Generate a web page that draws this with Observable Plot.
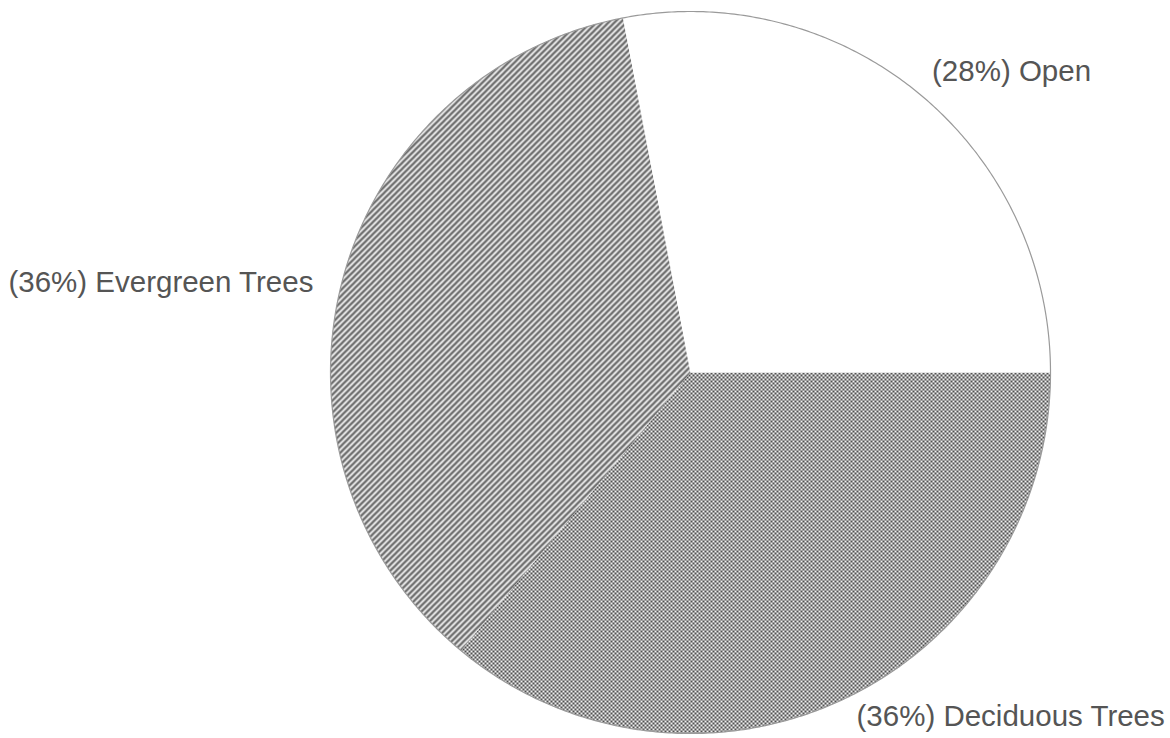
<!DOCTYPE html>
<html>
<head>
<meta charset="utf-8">
<script src="https://cdn.jsdelivr.net/npm/d3@7"></script>
<script src="https://cdn.jsdelivr.net/npm/@observablehq/plot@0.6"></script>
<style>
  html, body { margin: 0; padding: 0; background: #fff; }
  #chart svg { display: block; }
</style>
</head>
<body>
<div id="chart"></div>
<script>
// Land cover shares, listed clockwise from 3 o'clock
const categories = ["Deciduous Trees", "Evergreen Trees", "Open"];
const shares = [36, 36, 28];
const labels = ["(36%) Deciduous Trees", "(36%) Evergreen Trees", "(28%) Open"];

// Fill for each category
const fills = {
  "Deciduous Trees": "url(#checker)",
  "Evergreen Trees": "url(#hatch)",
  "Open": "#ffffff"
};

// Small nudges for each label, in pixels
const labelNudge = {
  "Deciduous Trees": {dx: 2, dy: -5},
  "Evergreen Trees": {dx: -4, dy: 6},
  "Open": {dx: -4, dy: -3}
};

// Slice angles (d3 convention: clockwise from 12 o'clock), starting at 3 o'clock
const arcs = d3.pie().sort(null).startAngle(Math.PI / 2).endAngle(Math.PI / 2 + 2 * Math.PI)(shares);

// Point on the unit circle in data coordinates (y up)
const polar = (a, r = 1) => ({x: r * Math.sin(a), y: r * Math.cos(a)});

// Outline of each slice as a closed polygon: centre, arc, back to centre
function slicePolygon(arc, cat) {
  const pts = [{cat, x: 0, y: 0}];
  const n = Math.max(2, Math.ceil((arc.endAngle - arc.startAngle) / (Math.PI / 360)));
  for (let i = 0; i <= n; i++) {
    const a = arc.startAngle + (arc.endAngle - arc.startAngle) * i / n;
    pts.push({cat, ...polar(a)});
  }
  pts.push({cat, x: 0, y: 0});
  return pts;
}
const slices = arcs.map((arc, i) => slicePolygon(arc, categories[i]));

// Full rim of the pie
const rim = slicePolygon({startAngle: 0, endAngle: 2 * Math.PI}, "rim").slice(1, -1);

// Labels sit just outside the rim at each slice's middle angle
const labelRows = arcs.map((arc, i) => {
  const mid = (arc.startAngle + arc.endAngle) / 2;
  return {cat: categories[i], text: labels[i], ...polar(mid, 1.07)};
});

// Pattern definitions used by the slice fills
const patterns = () => {
  const defs = d3.create("svg:defs");
  const hatch = defs.append("pattern")
    .attr("id", "hatch").attr("patternUnits", "userSpaceOnUse")
    .attr("width", 6).attr("height", 6);
  hatch.append("rect").attr("width", 6).attr("height", 6).attr("fill", "#f4f4f4");
  hatch.append("path")
    .attr("d", "M-1,1 l2,-2 M0,6 l6,-6 M5,7 l2,-2")
    .attr("stroke", "#6a6a6a").attr("stroke-width", 2.3);
  const checker = defs.append("pattern")
    .attr("id", "checker").attr("patternUnits", "userSpaceOnUse")
    .attr("width", 4).attr("height", 4);
  checker.append("rect").attr("width", 4).attr("height", 4).attr("fill", "#505050");
  checker.append("rect").attr("x", 0).attr("y", 0).attr("width", 2).attr("height", 2).attr("fill", "#f0f0f0");
  checker.append("rect").attr("x", 2).attr("y", 2).attr("width", 2).attr("height", 2).attr("fill", "#f0f0f0");
  return defs.node();
};

const labelMark = (d) => Plot.text([d], {
  x: "x", y: "y", text: "text",
  textAnchor: d.x >= 0 ? "start" : "end",
  dx: labelNudge[d.cat].dx,
  dy: labelNudge[d.cat].dy,
  fontSize: 29.5,
  fontFamily: "'Liberation Sans', Arial, sans-serif",
  fill: "#555555"
});

const chart = Plot.plot({
  width: 1170,
  height: 738,
  margin: 0,
  style: {background: "#ffffff"},
  x: {domain: [-1, 1], range: [330, 1050], axis: null},
  y: {domain: [-1, 1], range: [733, 11], axis: null},
  marks: [
    patterns,
    ...slices.map((pts, i) =>
      Plot.line(pts, {x: "x", y: "y", fill: fills[categories[i]], stroke: "none"})
    ),
    Plot.line(rim, {x: "x", y: "y", stroke: "#9a9a9a", strokeWidth: 1.2, fill: "none"}),
    ...labelRows.map(labelMark)
  ]
});

document.getElementById("chart").appendChild(chart);
</script>
</body>
</html>
